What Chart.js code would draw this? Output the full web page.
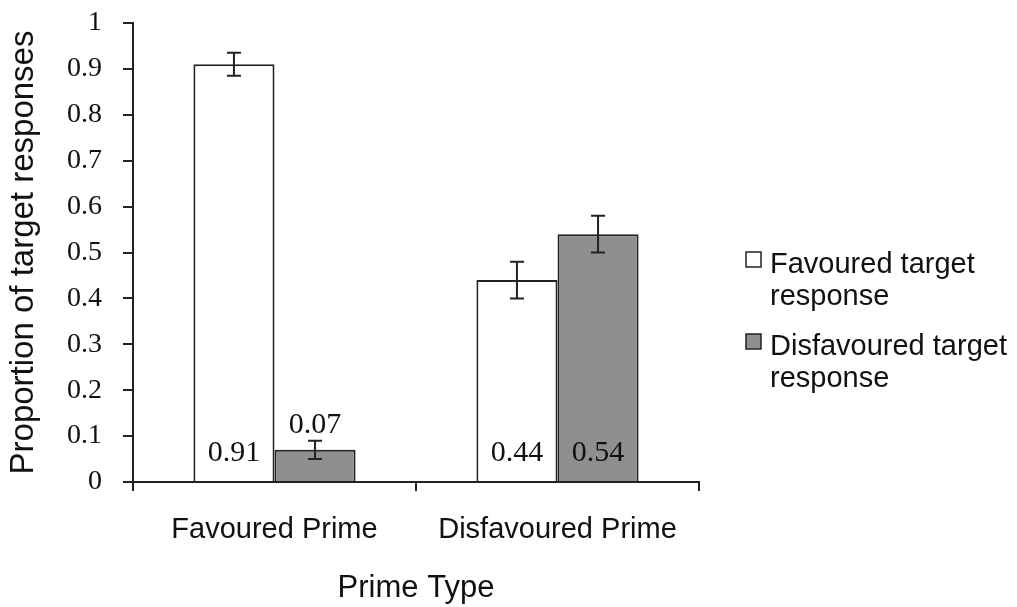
<!DOCTYPE html>
<html>
<head>
<meta charset="utf-8">
<script src="https://cdn.jsdelivr.net/npm/chart.js@4.4.1/dist/chart.umd.min.js"></script>
<style>
  body { margin: 0; background: #fff; }
  #wrap { width: 1017px; height: 607px; }
</style>
</head>
<body>
<div id="wrap"><canvas id="chart1" width="1017" height="607"></canvas></div>
<script>
// data
const categories = ["Favoured Prime", "Disfavoured Prime"];
const seriesNames = ["Favoured target response", "Disfavoured target response"];
const favouredValues = [0.91, 0.44];
const disfavouredValues = [0.07, 0.54];
const favouredErrors = [0.025, 0.04];
const disfavouredErrors = [0.02, 0.04];
const seriesColors = ["#ffffff", "#8f8f8f"];

const sansFont = "'Liberation Sans', Arial, sans-serif";
const serifFont = "'Liberation Serif', 'Times New Roman', serif";
const ink = "#222222";
const textColor = "#111111";

const errorBars = {
  id: "errorBars",
  afterDatasetsDraw(chart) {
    const ctx = chart.ctx;
    const y = chart.scales.y;
    ctx.save();
    ctx.strokeStyle = ink;
    ctx.lineWidth = 2;
    chart.data.datasets.forEach((ds, i) => {
      chart.getDatasetMeta(i).data.forEach((bar, j) => {
        const v = ds.data[j], e = ds.errors[j];
        const top = y.getPixelForValue(v + e);
        const bot = y.getPixelForValue(v - e);
        ctx.beginPath();
        ctx.moveTo(bar.x, top); ctx.lineTo(bar.x, bot);
        ctx.moveTo(bar.x - 7, top); ctx.lineTo(bar.x + 7, top);
        ctx.moveTo(bar.x - 7, bot); ctx.lineTo(bar.x + 7, bot);
        ctx.stroke();
      });
    });
    ctx.restore();
  }
};

const valueLabels = {
  id: "valueLabels",
  afterDatasetsDraw(chart) {
    const ctx = chart.ctx;
    const y = chart.scales.y;
    ctx.save();
    ctx.fillStyle = textColor;
    ctx.font = "30px " + serifFont;
    ctx.textAlign = "center";
    ctx.textBaseline = "alphabetic";
    chart.data.datasets.forEach((ds, i) => {
      chart.getDatasetMeta(i).data.forEach((bar, j) => {
        const v = ds.data[j];
        const txt = v.toFixed(2);
        if (bar.base - bar.y > 60) {
          ctx.fillText(txt, bar.x, bar.base - 20);
        } else {
          // short bar: put it above the error bar
          ctx.fillText(txt, bar.x, y.getPixelForValue(v + ds.errors[j]) - 8);
        }
      });
    });
    ctx.restore();
  }
};

const sideLegend = {
  id: "sideLegend",
  afterDraw(chart) {
    const ctx = chart.ctx, area = chart.chartArea;
    const boxX = area.right + 47;
    const textX = area.right + 71;
    ctx.save();
    ctx.font = "29px " + sansFont;
    ctx.textBaseline = "alphabetic";
    chart.data.datasets.forEach((ds, i) => {
      const base = area.top + 250 + i * 82;
      ctx.fillStyle = ds.backgroundColor;
      ctx.strokeStyle = ink;
      ctx.lineWidth = 1.5;
      ctx.fillRect(boxX, base - 21, 15, 15);
      ctx.strokeRect(boxX, base - 21, 15, 15);
      const cut = ds.label.lastIndexOf(" ");
      ctx.fillStyle = textColor;
      ctx.fillText(ds.label.slice(0, cut), textX, base);
      ctx.fillText(ds.label.slice(cut + 1), textX, base + 32);
    });
    ctx.restore();
  }
};

const chart1 = () => {
  const canvas = document.getElementById("chart1");
  const ctx = canvas.getContext("2d");

  new Chart(ctx, {
    type: "bar",
    data: {
      labels: categories,
      datasets: [
        {
          label: seriesNames[0],
          data: favouredValues,
          errors: favouredErrors,
          backgroundColor: seriesColors[0],
          borderColor: ink,
          borderWidth: 2,
          categoryPercentage: 0.573,
          barPercentage: 1
        },
        {
          label: seriesNames[1],
          data: disfavouredValues,
          errors: disfavouredErrors,
          backgroundColor: seriesColors[1],
          borderColor: ink,
          borderWidth: 2,
          categoryPercentage: 0.573,
          barPercentage: 1
        }
      ]
    },
    options: {
      responsive: false,
      animation: false,
      layout: {
        padding: { left: 0, top: 23, right: 318, bottom: 0 }
      },
      plugins: {
        legend: { display: false },
        tooltip: { enabled: false }
      },
      scales: {
        x: {
          afterFit: (s) => { s.height = 125; },
          grid: { offset: true, drawOnChartArea: false, tickLength: 9, color: ink, lineWidth: 2 },
          border: { color: ink, width: 2 },
          ticks: { color: textColor, font: { family: sansFont, size: 29 }, padding: 22 },
          title: {
            display: true,
            text: "Prime Type",
            color: textColor,
            font: { family: sansFont, size: 31 },
            padding: { top: 0, bottom: 0 }
          }
        },
        y: {
          min: 0,
          max: 1,
          // fixed width, and drop the tick-label overhang so the plot top sits at the padding
          afterFit: (s) => { s.width = 133; s.paddingTop = 0; s.paddingBottom = 0; },
          grid: { drawOnChartArea: false, tickLength: 10, color: ink, lineWidth: 2 },
          border: { color: ink, width: 2 },
          ticks: {
            stepSize: 0.1,
            color: textColor,
            font: { family: serifFont, size: 28 },
            padding: 21,
            callback: (v) => String(+v.toFixed(1))
          },
          title: {
            display: true,
            text: "Proportion of target responses",
            color: textColor,
            font: { family: sansFont, size: 33 },
            padding: { top: 4, bottom: 0 }
          }
        }
      }
    },
    plugins: [errorBars, valueLabels, sideLegend]
  });
};

chart1();
</script>
</body>
</html>
